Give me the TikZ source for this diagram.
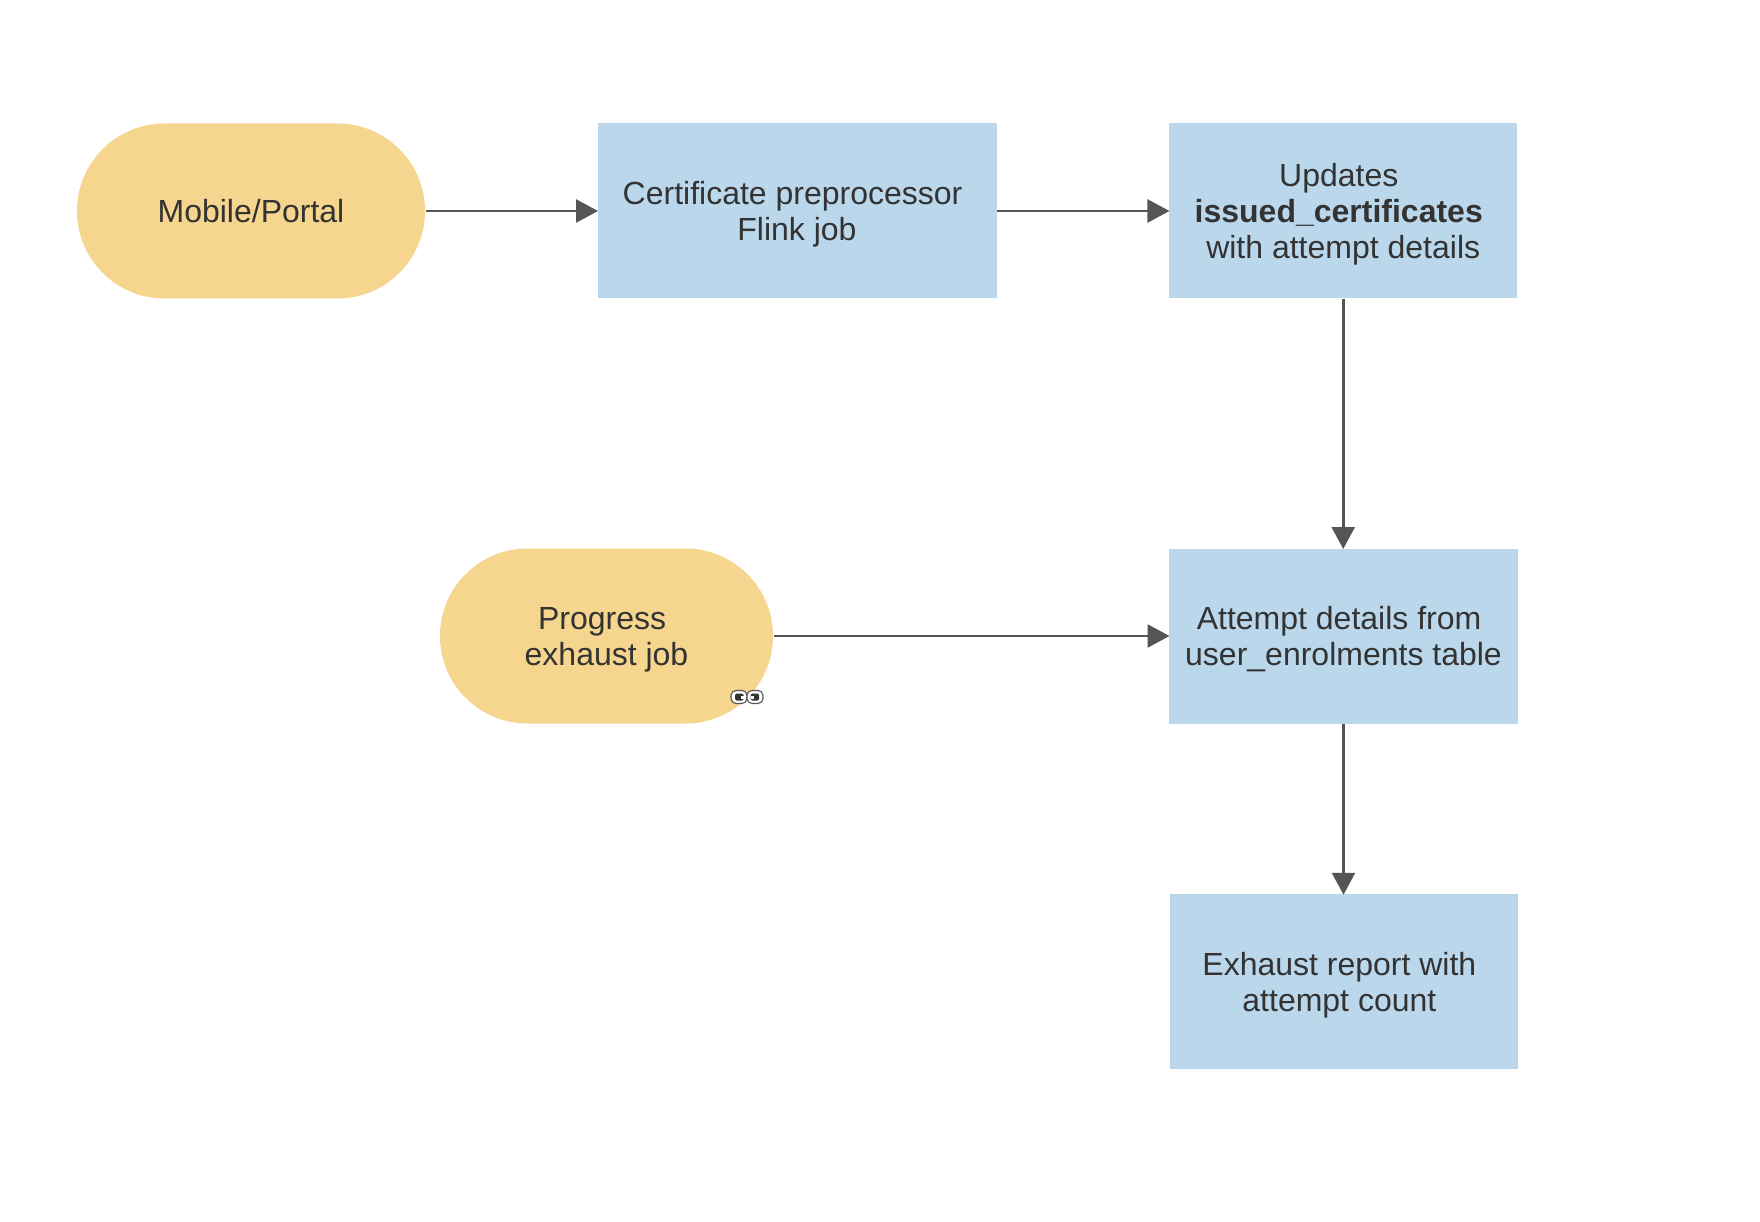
\documentclass[tikz,border=0pt]{standalone}
\usepackage{fontspec}
\setmainfont{Liberation Sans}
\usetikzlibrary{arrows.meta,shapes.misc}
\definecolor{termfill}{HTML}{F6D58E}
\definecolor{procfill}{HTML}{BBD7EB}
\definecolor{inktext}{HTML}{333333}
\definecolor{inkline}{HTML}{555555}
\newcommand{\trailsp}{\rule{8.9pt}{0pt}}
\newcommand{\topsp}{\rule{0pt}{30pt}}
\tikzset{
  diagtext/.style={text=inktext,align=center,inner sep=0pt,outer sep=0pt,
    font=\fontsize{32}{36}\selectfont},
  termbox/.style={diagtext,rounded rectangle,fill=termfill,minimum height=175pt},
  procbox/.style={diagtext,rectangle,fill=procfill,minimum height=175pt},
  flow/.style={draw=inkline,line width=2.6pt,-{Triangle[length=22pt,width=23pt]},shorten <=0.8pt,shorten >=-0.5pt},
}
\begin{document}
\begin{tikzpicture}[x=1pt,y=-1pt]
\useasboundingbox (0,0) rectangle (1760,1222);
\fill[white] (0,0) rectangle (1760,1222);
\node[termbox,minimum width=348pt] (mobile) at (251,211) {Mobile/Portal};
\node[procbox,minimum width=399pt] (cert) at (797,211) {\topsp Certificate preprocessor\trailsp\\Flink job};
\node[procbox,minimum width=348.5pt] (updates) at (1343.2,211) {\topsp Updates\trailsp\\\textbf{issued\_certificates}\trailsp\\with attempt details};
\node[termbox,minimum width=333pt] (progress) at (606.5,636) {\topsp Progress\trailsp\\exhaust job};
\node[procbox,minimum width=349pt] (attempt) at (1343.5,636) {\topsp Attempt details from\trailsp\\user\_enrolments table};
\node[procbox,minimum width=348.5pt,minimum height=174.5pt] (report) at (1343.8,981.5) {\topsp Exhaust report with\trailsp\\attempt count\trailsp};
\draw[flow] (mobile.east) -- (cert.west);
\draw[flow] (cert.east) -- (updates.west);
\draw[flow] (updates.south) -- (updates.south |- attempt.north);
\draw[flow] (progress.east) -- (attempt.west);
\draw[flow] (attempt.south) -- (attempt.south |- report.north);
% chain-link badge
\foreach \lx/\ix/\nx in {731/735/741, 747/750.5/750.5}{
  \fill[white,draw=inkline,line width=1.1pt,rounded corners=5pt] (\lx,690.5) rectangle ++(16,13);
  \fill[inktext,rounded corners=1.5pt] (\ix,693.5) rectangle ++(8.5,7);
  \fill[white] (\nx,695.5) rectangle ++(3,3);
}
\end{tikzpicture}
\end{document}
